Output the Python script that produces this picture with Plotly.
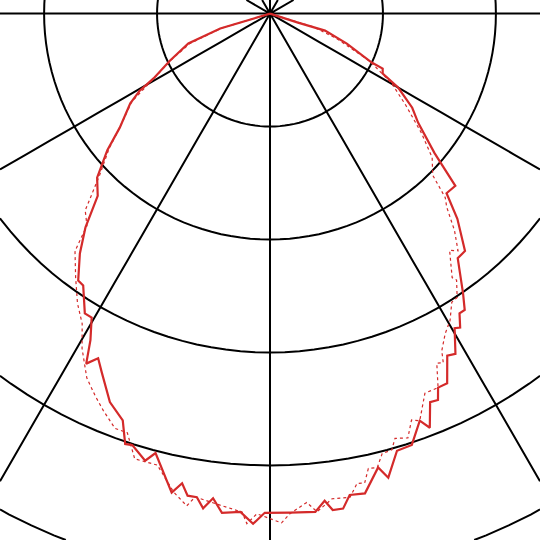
import plotly.graph_objects as go

# azimuth in degrees measured from the downward direction, radius in grid units
solid_theta = [-80, -73.3, -69.9, -64.8, -60.9, -59.4, -57.3, -52.8, -50.0, -46.5,
               -43.4, -40.8, -38.4, -35.7, -34.5, -31.7, -30.4, -28.8, -27.7, -26.5,
               -25.1, -22.4, -19.9, -18.6, -17.7, -15.6, -14.6, -11.6, -10.6, -9.7,
               -8.6, -7.7, -6.7, -5.5, -3.4, -1.9, -0.6, 5.2, 6.4, 7.2,
               8.4, 9.4, 11.2, 13.4, 14.3, 16.2, 18.2, 20.2, 21.1, 22.4,
               23.5, 24.2, 25.6, 27.4, 28.6, 30.4, 31.2, 32.3, 33.3, 34.6,
               37.5, 39.4, 42.4, 44.5, 47.1, 49.7, 53.6, 56.5, 60.0, 62.0,
               64.0, 64.3, 68.7, 72.8, 72.2, 80]
solid_r = [0.0, 0.46, 0.77, 0.98, 1.18, 1.34, 1.47, 1.67, 1.88, 2.11,
           2.22, 2.50, 2.71, 2.91, 2.92, 3.12, 3.12, 3.30, 3.50, 3.41,
           3.51, 3.72, 3.83, 4.02, 4.01, 4.11, 4.02, 4.33, 4.23, 4.33,
           4.33, 4.42, 4.32, 4.44, 4.42, 4.52, 4.42, 4.43, 4.34, 4.43,
           4.43, 4.32, 4.33, 4.13, 4.24, 4.03, 4.02, 3.84, 3.93, 3.72,
           3.73, 3.63, 3.63, 3.41, 3.43, 3.23, 3.25, 3.14, 3.14, 3.01,
           2.73, 2.72, 2.46, 2.23, 2.24, 1.91, 1.63, 1.51, 1.31, 1.13,
           1.11, 1.00, 0.73, 0.51, 0.26, 0.0]

dotted_theta = [-80, -73.3, -69.5, -65.0, -61.0, -57.5, -53.0, -50.0, -46.5, -43.2,
                -40.8, -39.4, -36.4, -33.6, -31.2, -29.3, -26.7, -24.6, -22.8, -20.5,
                -18.8, -16.9, -14.0, -11.4, -9.6, -8.8, -3.2, -2.6, -1.5, 1.3,
                2.3, 4.3, 5.4, 7.3, 9.4, 10.5, 11.4, 12.2, 13.3, 14.3,
                15.6, 16.4, 18.0, 19.2, 20.2, 22.2, 24.2, 25.5, 26.4, 27.0,
                28.7, 30.4, 32.2, 33.4, 35.0, 34.6, 37.2, 38.4, 40.4, 42.4,
                43.6, 45.2, 48.4, 51.7, 56.0, 60.2, 64.5, 69.5, 73.0, 80]
dotted_r = [0.0, 0.45, 0.76, 0.96, 1.17, 1.45, 1.66, 1.86, 2.08, 2.39,
            2.48, 2.72, 2.90, 3.08, 3.21, 3.40, 3.61, 3.72, 3.81, 3.92,
            3.92, 4.12, 4.12, 4.32, 4.42, 4.33, 4.42, 4.52, 4.43, 4.51,
            4.43, 4.34, 4.43, 4.33, 4.34, 4.23, 4.24, 4.12, 4.13, 4.02,
            4.01, 3.92, 3.95, 3.81, 3.84, 3.63, 3.63, 3.43, 3.45, 3.35,
            3.23, 3.15, 3.02, 3.01, 2.88, 2.84, 2.63, 2.68, 2.52, 2.32,
            2.25, 2.03, 1.92, 1.71, 1.45, 1.24, 0.98, 0.63, 0.40, 0.0]

# one grid ring = 10 degrees of colatitude on an azimuthal map around the pole
ring = 10


def to_lat(r):
    return [90 - ring * v for v in r]


fig = go.Figure()
fig.add_trace(go.Scattergeo(
    lon=dotted_theta, lat=to_lat(dotted_r), mode="lines",
    line=dict(color="#d42a2a", width=1.2, dash="dot"),
    showlegend=False, hoverinfo="skip"
))
fig.add_trace(go.Scattergeo(
    lon=solid_theta, lat=to_lat(solid_r), mode="lines",
    line=dict(color="#d42a2a", width=2.2),
    showlegend=False, hoverinfo="skip"
))

fig.update_geos(
    projection_type="azimuthal equidistant",
    projection_rotation=dict(lon=0, lat=90, roll=0),
    projection_scale=7.53,
    center=dict(lon=0, lat=67.3),
    lataxis=dict(range=[-90, 90], showgrid=True, dtick=10, gridcolor="black", gridwidth=2),
    lonaxis=dict(range=[-180, 180], showgrid=True, dtick=30, gridcolor="black", gridwidth=2),
    showland=False, showocean=False, showlakes=False, showrivers=False,
    showcountries=False, showcoastlines=False, showframe=False,
    bgcolor="white",
    domain=dict(x=[0, 1], y=[0, 1]),
)
fig.update_layout(
    width=540, height=540,
    margin=dict(l=0, r=0, t=0, b=0),
    paper_bgcolor="white",
)
fig.write_html("out.html", config={"displayModeBar": False},
               post_script="document.body.style.margin = '0';")
